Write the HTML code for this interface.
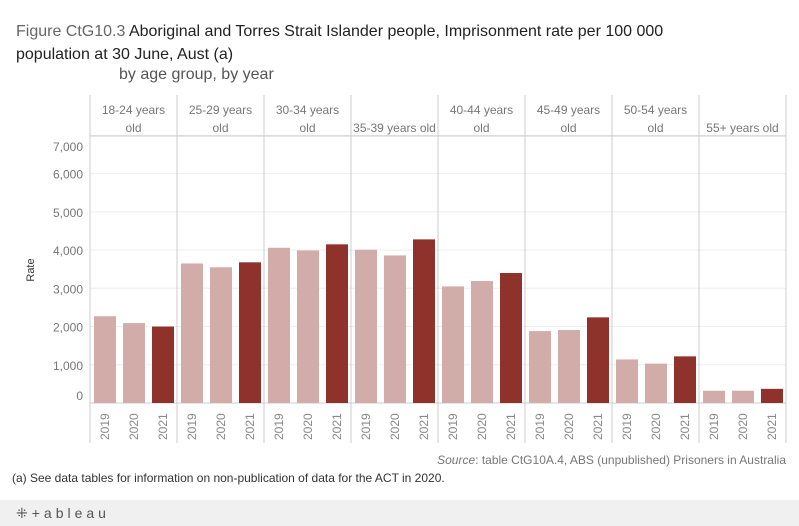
<!DOCTYPE html>
<html><head><meta charset="utf-8"><style>
body{margin:0;width:799px;height:526px;background:#fff;font-family:"Liberation Sans",sans-serif;overflow:hidden;position:relative}
.t{position:absolute;white-space:nowrap}
</style></head><body>
<div class="t" style="left:16px;top:20px;font-size:16px;color:#222;line-height:23px">
<span style="color:#666">Figure CtG10.3</span> Aboriginal and Torres Strait Islander people, Imprisonment rate per 100 000<br>population at 30 June, Aust (a)</div>
<div class="t" style="left:119px;top:66px;font-size:16px;color:#555">by age group, by year</div>
<svg id="c" width="799" height="500" style="position:absolute;left:0;top:0"></svg>
<div class="t" style="right:13px;top:453px;font-size:12px;color:#777"><i>Source</i>: table CtG10A.4, ABS (unpublished) Prisoners in Australia</div>
<div class="t" style="left:12px;top:471px;font-size:12px;color:#333">(a) See data tables for information on non-publication of data for the ACT in 2020.</div>
<div style="position:absolute;left:0;top:500px;width:799px;height:26px;background:#f0f0f0"></div>
<div class="t" style="left:16px;top:505px;font-size:14px;color:#555;letter-spacing:4px">⁜+ableau</div>
<script>
const groups=["18-24 years|old","25-29 years|old","30-34 years|old","35-39 years old","40-44 years|old","45-49 years|old","50-54 years|old","55+ years old"];
const years=["2019","2020","2021"];
const v2019=[2270,3650,4060,4010,3050,1880,1140,320];
const v2020=[2090,3550,3990,3860,3190,1910,1030,320];
const v2021=[2000,3680,4150,4280,3400,2240,1220,370];
const ticks=[0,1000,2000,3000,4000,5000,6000,7000];
const tickLabels=["0","1,000","2,000","3,000","4,000","5,000","6,000","7,000"];
const series=[v2019,v2020,v2021];
const svg=document.getElementById('c');const NS="http://www.w3.org/2000/svg";
function el(t,a,p){const e=document.createElementNS(NS,t);for(const k in a)e.setAttribute(k,a[k]);(p||svg).appendChild(e);return e;}
const x0=90,pw=87,panelTop=136,base=403;
const y=v=>base-v*0.03823;
ticks.forEach((t,i)=>{
 const g=el('line',{x1:x0,x2:x0+pw*8,y1:y(t),y2:y(t),stroke:t?'#eee':'#ccc'});
 
 
 let ty=y(t)+5; if(i==7) ty=151; if(i==0) ty=y(t)-3;
 const l=el('text',{x:83,y:ty,'text-anchor':'end','font-size':12,fill:'#777','font-family':'Liberation Sans'});l.textContent=tickLabels[i];
 
 
});
const yt=el('text',{x:0,y:0,transform:'translate(34,270) rotate(-90)','text-anchor':'middle','font-size':11,fill:'#333','font-family':'Liberation Sans'});yt.textContent='Rate';


el('line',{x1:x0,x2:x0+pw*8,y1:panelTop,y2:panelTop,stroke:'#ccc'});
groups.forEach((g,i)=>{
 const px=x0+pw*i;
 const sep=el('line',{x1:px,x2:px,y1:95,y2:443,stroke:'#ccc'});
 
 
 const lines=g.split('|');
 lines.forEach((ln,j)=>{
  const ty=lines.length==2?114+j*18:132;
  const h=el('text',{x:px+pw/2,y:ty,'text-anchor':'middle','font-size':12,fill:'#777','font-family':'Liberation Sans'});h.textContent=ln;
  
  
 });
 series.forEach((s,k)=>{
  const bx=px+4+k*29;
  const r=el('rect',{x:bx,y:y(s[i]),width:22,height:base-y(s[i]),fill:k==2?'#8e322b':'#d1aca8'});
  
  
  const yl=el('text',{x:0,y:0,transform:`translate(${bx+15},440) rotate(-90)`,'font-size':12,fill:'#888','font-family':'Liberation Sans'});yl.textContent=years[k];
  
  
 });
});
const last=el('line',{x1:x0+pw*8,x2:x0+pw*8,y1:95,y2:443,stroke:'#ccc'});


</script>
</body></html>
